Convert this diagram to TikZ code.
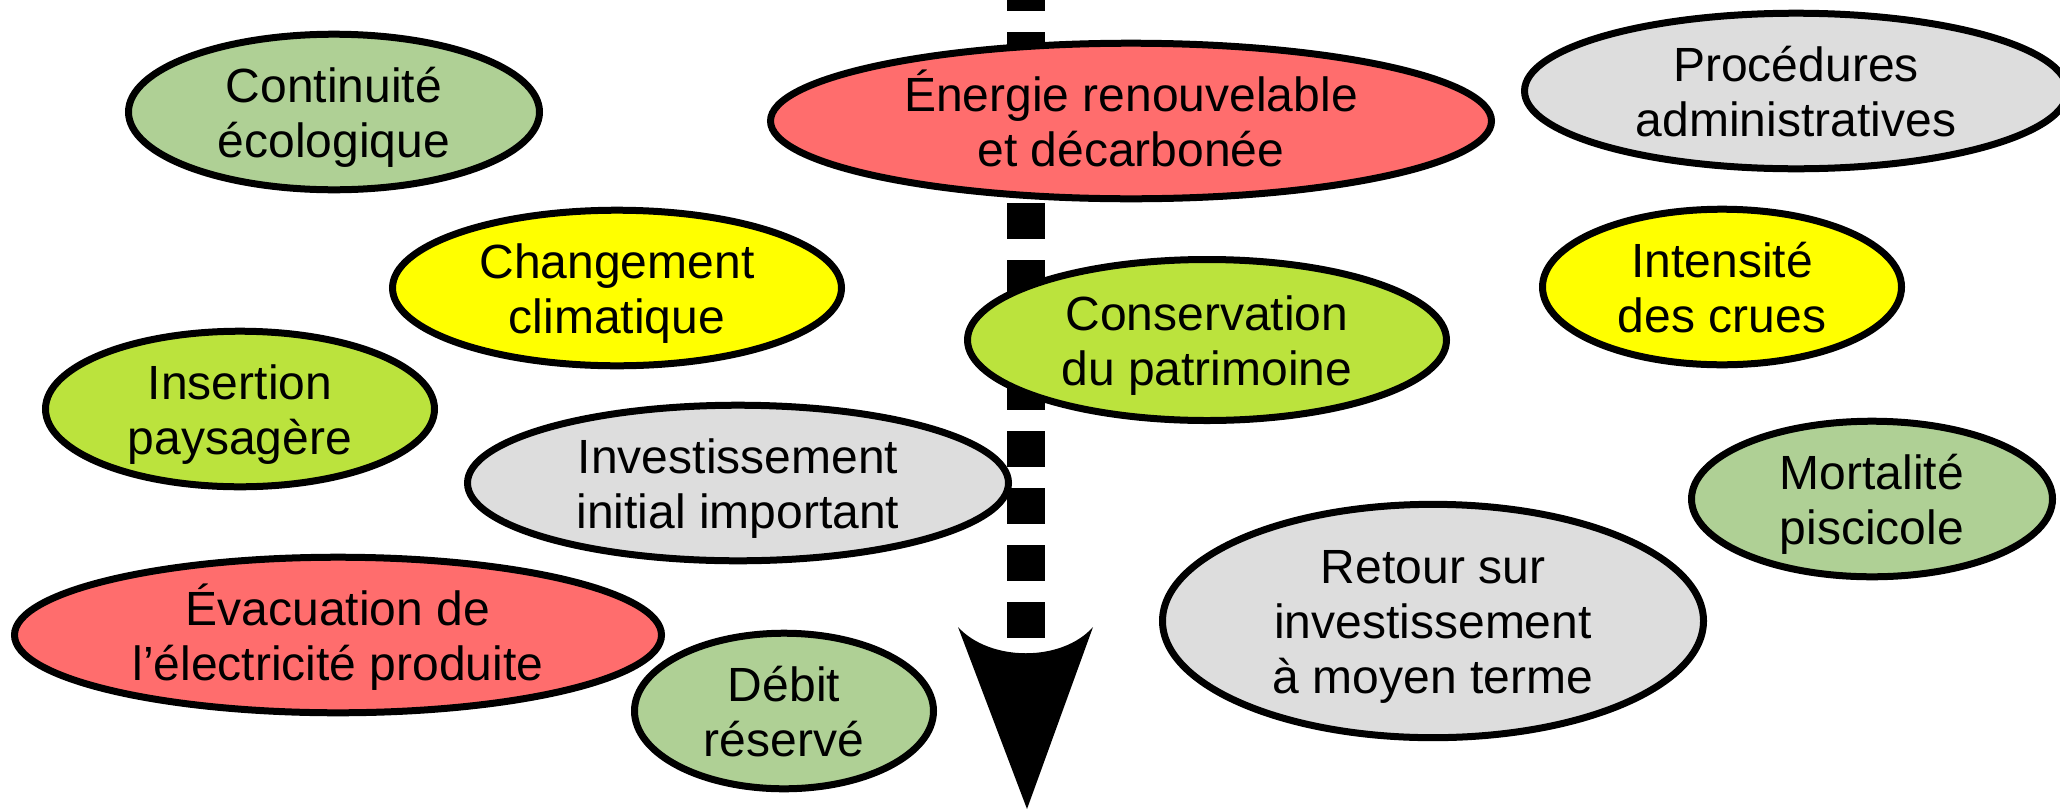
\documentclass[tikz,border=0pt]{standalone}
\usepackage{fontspec}
\setmainfont{Liberation Sans}
\usetikzlibrary{shapes.geometric}
\definecolor{cgreen}{HTML}{AFD095}
\definecolor{clime}{HTML}{BBE33D}
\definecolor{cred}{HTML}{FF6D6D}
\definecolor{cyellow}{HTML}{FFFF00}
\definecolor{cgray}{HTML}{DDDDDD}
\newcommand\lsx{\rule[-10pt]{0pt}{55pt}}
\tikzset{
  bub/.style={ellipse, draw=black, line width=7pt, inner sep=0pt, align=center,
    font=\fontsize{48}{55}\selectfont, text=black},
}
\begin{document}
\begin{tikzpicture}[x=1pt,y=-1pt]
\useasboundingbox (0,0) rectangle (2060,809);
\clip (0,0) rectangle (2060,809);
% arrow
\coordinate (atop) at (1026,0);
\coordinate (aend) at (1026,638);
\coordinate (tip) at (1027,809);
\draw[line width=38pt, dash pattern=on 36pt off 21pt, dash phase=25pt] (atop) -- (aend);
\fill (958,627) .. controls (990,662) and (1062,662) .. (1093,627) -- (tip) -- cycle;
% bubbles
\node[bub, fill=cgreen, minimum width=411pt, minimum height=133pt] (cont) at (334,112) {\lsx Continuité\\\lsx écologique};
\node[bub, fill=cred, minimum width=721pt, minimum height=147pt] (ener) at (1131,121) {\lsx Énergie renouvelable\\\lsx et décarbonée};
\node[bub, fill=cgray, minimum width=543pt, minimum height=147pt] (proc) at (1796,91) {\lsx Procédures\\\lsx administratives};
\node[bub, fill=cyellow, minimum width=449pt, minimum height=147pt] (chg) at (617,288) {\lsx Changement\\\lsx climatique};
\node[bub, fill=cyellow, minimum width=359pt, minimum height=147pt] (int) at (1722,287) {\lsx Intensité\\\lsx des crues};
\node[bub, fill=clime, minimum width=479pt, minimum height=161pt] (cons) at (1207,340) {\lsx Conservation\\\lsx du patrimoine};
\node[bub, fill=clime, minimum width=389pt, minimum height=149pt] (ins) at (240,409) {\lsx Insertion\\\lsx paysagère};
\node[bub, fill=cgray, minimum width=541pt, minimum height=147pt] (inv) at (738,483) {\lsx Investissement\\\lsx initial important};
\node[bub, fill=cgreen, minimum width=361pt, minimum height=145pt] (mort) at (1872,499) {\lsx Mortalité\\\lsx piscicole};
\node[bub, fill=cgray, minimum width=541pt, minimum height=209pt] (ret) at (1433,621) {\lsx Retour sur\\\lsx investissement\\\lsx à moyen terme};
\node[bub, fill=cred, minimum width=647pt, minimum height=147pt] (evac) at (338,635) {\lsx Évacuation de\\\lsx l’électricité produite};
\node[bub, fill=cgreen, minimum width=299pt, minimum height=147pt] (deb) at (784,711) {\lsx Débit\\\lsx réservé};
\end{tikzpicture}
\end{document}
